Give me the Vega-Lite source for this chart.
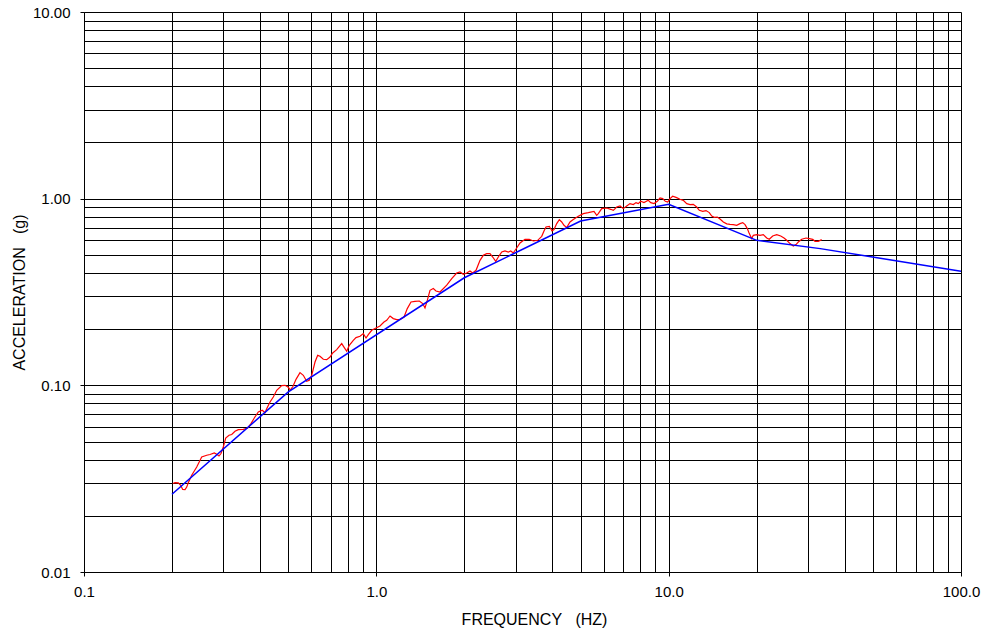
{
  "$schema": "https://vega.github.io/schema/vega-lite/v6.json",
  "width": 877,
  "height": 560,
  "autosize": {"type": "none"},
  "padding": {"left": 84, "top": 12, "right": 24, "bottom": 63},
  "background": "#ffffff",
  "config": {"view": {"stroke": null}},
  "datasets": {
    "measured": [
      {"f":0.2012,"a":0.0298},{"f":0.2048,"a":0.0301},{"f":0.2102,"a":0.0300},{"f":0.2142,"a":0.0291},{"f":0.2176,"a":0.0277},{"f":0.2216,"a":0.0276},{"f":0.2246,"a":0.0285},{"f":0.2274,"a":0.0301},{"f":0.2336,"a":0.0330},{"f":0.2430,"a":0.0365},
      {"f":0.2527,"a":0.0413},{"f":0.2629,"a":0.0422},{"f":0.2698,"a":0.0426},{"f":0.2791,"a":0.0434},{"f":0.2844,"a":0.0427},{"f":0.2896,"a":0.0418},{"f":0.2942,"a":0.0431},{"f":0.2996,"a":0.0467},{"f":0.3053,"a":0.0522},{"f":0.3134,"a":0.0540},
      {"f":0.3201,"a":0.0545},{"f":0.3285,"a":0.0567},{"f":0.3372,"a":0.0579},{"f":0.3507,"a":0.0581},{"f":0.3631,"a":0.0591},{"f":0.3726,"a":0.0624},{"f":0.3824,"a":0.0668},{"f":0.3947,"a":0.0720},{"f":0.4073,"a":0.0735},{"f":0.4161,"a":0.0714},
      {"f":0.4217,"a":0.0750},{"f":0.4328,"a":0.0814},{"f":0.4442,"a":0.0866},{"f":0.4563,"a":0.0941},{"f":0.4746,"a":0.0997},{"f":0.4871,"a":0.1000},{"f":0.4999,"a":0.0976},{"f":0.5078,"a":0.0944},{"f":0.5188,"a":0.0988},{"f":0.5312,"a":0.1077},
      {"f":0.5481,"a":0.1170},{"f":0.5626,"a":0.1132},{"f":0.5778,"a":0.1051},{"f":0.5898,"a":0.1064},{"f":0.6011,"a":0.1132},{"f":0.6169,"a":0.1333},{"f":0.6301,"a":0.1448},{"f":0.6417,"a":0.1431},{"f":0.6586,"a":0.1379},{"f":0.6765,"a":0.1373},
      {"f":0.6943,"a":0.1418},{"f":0.7092,"a":0.1490},{"f":0.7319,"a":0.1554},{"f":0.7613,"a":0.1673},{"f":0.7770,"a":0.1593},{"f":0.7919,"a":0.1522},{"f":0.8082,"a":0.1638},{"f":0.8341,"a":0.1743},{"f":0.8520,"a":0.1802},{"f":0.8793,"a":0.1831},
      {"f":0.9025,"a":0.1893},{"f":0.9219,"a":0.1793},{"f":0.9387,"a":0.1870},{"f":0.9642,"a":0.1972},{"f":0.9974,"a":0.2028},{"f":1.029,"a":0.2079},{"f":1.062,"a":0.2184},{"f":1.085,"a":0.2230},{"f":1.114,"a":0.2352},{"f":1.143,"a":0.2278},
      {"f":1.174,"a":0.2250},{"f":1.205,"a":0.2258},{"f":1.244,"a":0.2323},{"f":1.276,"a":0.2577},{"f":1.314,"a":0.2795},{"f":1.356,"a":0.2819},{"f":1.403,"a":0.2830},{"f":1.441,"a":0.2741},{"f":1.467,"a":0.2596},{"f":1.494,"a":0.2854},
      {"f":1.526,"a":0.3229},{"f":1.566,"a":0.3298},{"f":1.600,"a":0.3201},{"f":1.651,"a":0.3162},{"f":1.741,"a":0.3442},{"f":1.811,"a":0.3730},{"f":1.883,"a":0.3997},{"f":1.933,"a":0.4047},{"f":1.984,"a":0.3934},{"f":2.038,"a":0.3997},
      {"f":2.091,"a":0.4097},{"f":2.136,"a":0.3997},{"f":2.193,"a":0.4132},{"f":2.263,"a":0.4675},{"f":2.322,"a":0.4973},{"f":2.385,"a":0.5078},{"f":2.448,"a":0.5078},{"f":2.501,"a":0.4869},{"f":2.561,"a":0.4618},{"f":2.614,"a":0.4869},
      {"f":2.685,"a":0.5179},{"f":2.755,"a":0.5244},{"f":2.828,"a":0.5179},{"f":2.882,"a":0.5244},{"f":2.941,"a":0.5116},{"f":3.021,"a":0.5441},{"f":3.101,"a":0.5787},{"f":3.225,"a":0.6058},{"f":3.336,"a":0.6058},{"f":3.443,"a":0.5932},
      {"f":3.564,"a":0.5983},{"f":3.679,"a":0.6286},{"f":3.746,"a":0.6711},{"f":3.805,"a":0.7050},{"f":3.906,"a":0.7111},{"f":3.990,"a":0.6711},{"f":4.053,"a":0.6828},{"f":4.140,"a":0.7352},{"f":4.226,"a":0.7724},{"f":4.306,"a":0.7498},
      {"f":4.385,"a":0.7200},{"f":4.479,"a":0.6998},{"f":4.597,"a":0.7498},{"f":4.718,"a":0.7724},{"f":4.908,"a":0.8045},{"f":5.105,"a":0.8317},{"f":5.310,"a":0.8420},{"f":5.554,"a":0.8556},{"f":5.673,"a":0.8145},{"f":5.745,"a":0.8317},
      {"f":5.901,"a":0.8846},{"f":6.139,"a":0.8912},{"f":6.335,"a":0.8770},{"f":6.466,"a":0.8662},{"f":6.642,"a":0.9022},{"f":6.817,"a":0.9134},{"f":6.996,"a":0.8846},{"f":7.186,"a":0.9134},{"f":7.375,"a":0.9409},{"f":7.569,"a":0.9294},
      {"f":7.732,"a":0.9526},{"f":7.873,"a":0.9409},{"f":8.023,"a":0.9680},{"f":8.234,"a":0.9526},{"f":8.518,"a":0.9800},{"f":8.681,"a":0.9526},{"f":8.910,"a":0.9409},{"f":9.144,"a":0.9680},{"f":9.341,"a":1.008},{"f":9.542,"a":1.001},
      {"f":9.739,"a":0.968},{"f":9.925,"a":0.9596},{"f":10.11,"a":1.001},{"f":10.32,"a":1.030},{"f":10.65,"a":1.013},{"f":10.93,"a":0.9921},{"f":11.22,"a":0.980},{"f":11.53,"a":0.9409},{"f":11.83,"a":0.9294},{"f":12.14,"a":0.9328},
      {"f":12.47,"a":0.9022},{"f":12.73,"a":0.8662},{"f":13.08,"a":0.8556},{"f":13.42,"a":0.8630},{"f":13.77,"a":0.8420},{"f":14.04,"a":0.8074},{"f":14.33,"a":0.7946},{"f":14.67,"a":0.7975},{"f":14.98,"a":0.7781},{"f":15.38,"a":0.7498},
      {"f":15.80,"a":0.7334},{"f":16.21,"a":0.7289},{"f":16.64,"a":0.7262},{"f":17.09,"a":0.7200},{"f":17.54,"a":0.7352},{"f":17.92,"a":0.7443},{"f":18.25,"a":0.7262},{"f":18.58,"a":0.6912},{"f":18.87,"a":0.6499},{"f":19.23,"a":0.6110},
      {"f":19.48,"a":0.6364},{"f":20.01,"a":0.6419},{"f":20.53,"a":0.6364},{"f":21.07,"a":0.6419},{"f":21.65,"a":0.6156},{"f":22.09,"a":0.6058},{"f":22.69,"a":0.6309},{"f":23.42,"a":0.6419},{"f":24.17,"a":0.6309},{"f":24.81,"a":0.6156},
      {"f":25.34,"a":0.5983},{"f":26.01,"a":0.5745},{"f":26.69,"a":0.5577},{"f":27.27,"a":0.5674},{"f":27.76,"a":0.5859},{"f":28.52,"a":0.6058},{"f":29.50,"a":0.6156},{"f":30.28,"a":0.6110},{"f":31.10,"a":0.6058},{"f":31.67,"a":0.5910},
      {"f":32.50,"a":0.5910},{"f":33.38,"a":0.6035}
    ],
    "design": [
      {"f":0.2,"a":0.0261},{"f":0.5,"a":0.0923},{"f":2,"a":0.377},{"f":5,"a":0.759},{"f":10,"a":0.932},{"f":20,"a":0.598},{"f":33,"a":0.540},{"f":100,"a":0.409}
    ]
  },
  "encoding": {
    "x": {
      "field": "f", "type": "quantitative",
      "scale": {"type": "log", "domain": [0.1, 100], "nice": false, "zero": false},
      "axis": {
        "values": [0.1,0.2,0.3,0.4,0.5,0.6,0.7,0.8,0.9,1,2,3,4,5,6,7,8,9,10,20,30,40,50,60,70,80,90,100],
        "grid": true, "gridColor": "#000000", "gridOpacity": 1, "gridWidth": 1,
        "domain": true, "domainColor": "#000000", "domainWidth": 1,
        "ticks": true, "tickSize": 4, "tickColor": "#000000",
        "tickOpacity": {"condition": {"test": "abs(log(datum.value)/LN10 - round(log(datum.value)/LN10)) < 0.01", "value": 1}, "value": 0},
        "labelExpr": "abs(log(datum.value)/LN10 - round(log(datum.value)/LN10)) < 0.01 ? format(datum.value, '.1f') : ''",
        "labelFont": "Liberation Sans", "labelFontSize": 15, "labelColor": "#000000", "labelPadding": 8,
        "labelOverlap": false, "labelFlush": false,
        "title": "FREQUENCY\u00a0\u00a0 (HZ)", "titleFont": "Liberation Sans", "titleFontSize": 16, "titleFontWeight": "normal", "titleColor": "#000000", "titlePadding": 12,
        "titleX": 450, "titleAlign": "center"
      }
    },
    "y": {
      "field": "a", "type": "quantitative",
      "scale": {"type": "log", "domain": [0.01, 10], "nice": false, "zero": false},
      "axis": {
        "values": [0.01,0.02,0.03,0.04,0.05,0.06,0.07,0.08,0.09,0.1,0.2,0.3,0.4,0.5,0.6,0.7,0.8,0.9,1,2,3,4,5,6,7,8,9,10],
        "grid": true, "gridColor": "#000000", "gridOpacity": 1, "gridWidth": 1,
        "domain": true, "domainColor": "#000000", "domainWidth": 1,
        "ticks": true, "tickSize": 4, "tickColor": "#000000",
        "tickOpacity": {"condition": {"test": "abs(log(datum.value)/LN10 - round(log(datum.value)/LN10)) < 0.01", "value": 1}, "value": 0},
        "labelExpr": "abs(log(datum.value)/LN10 - round(log(datum.value)/LN10)) < 0.01 ? format(datum.value, '.2f') : ''",
        "labelFont": "Liberation Sans", "labelFontSize": 15, "labelColor": "#000000", "labelPadding": 10,
        "labelOverlap": false, "labelFlush": false,
        "title": "ACCELERATION\u00a0\u00a0 (g)", "titleFont": "Liberation Sans", "titleFontSize": 16, "titleFontWeight": "normal", "titleColor": "#000000", "titlePadding": 5
      }
    }
  },
  "layer": [
    {
      "data": {"name": "measured"},
      "mark": {"type": "line", "color": "#ff0000", "strokeWidth": 1.2, "clip": true}
    },
    {
      "data": {"name": "design"},
      "mark": {"type": "line", "color": "#0000ff", "strokeWidth": 1.5, "clip": true}
    }
  ]
}
